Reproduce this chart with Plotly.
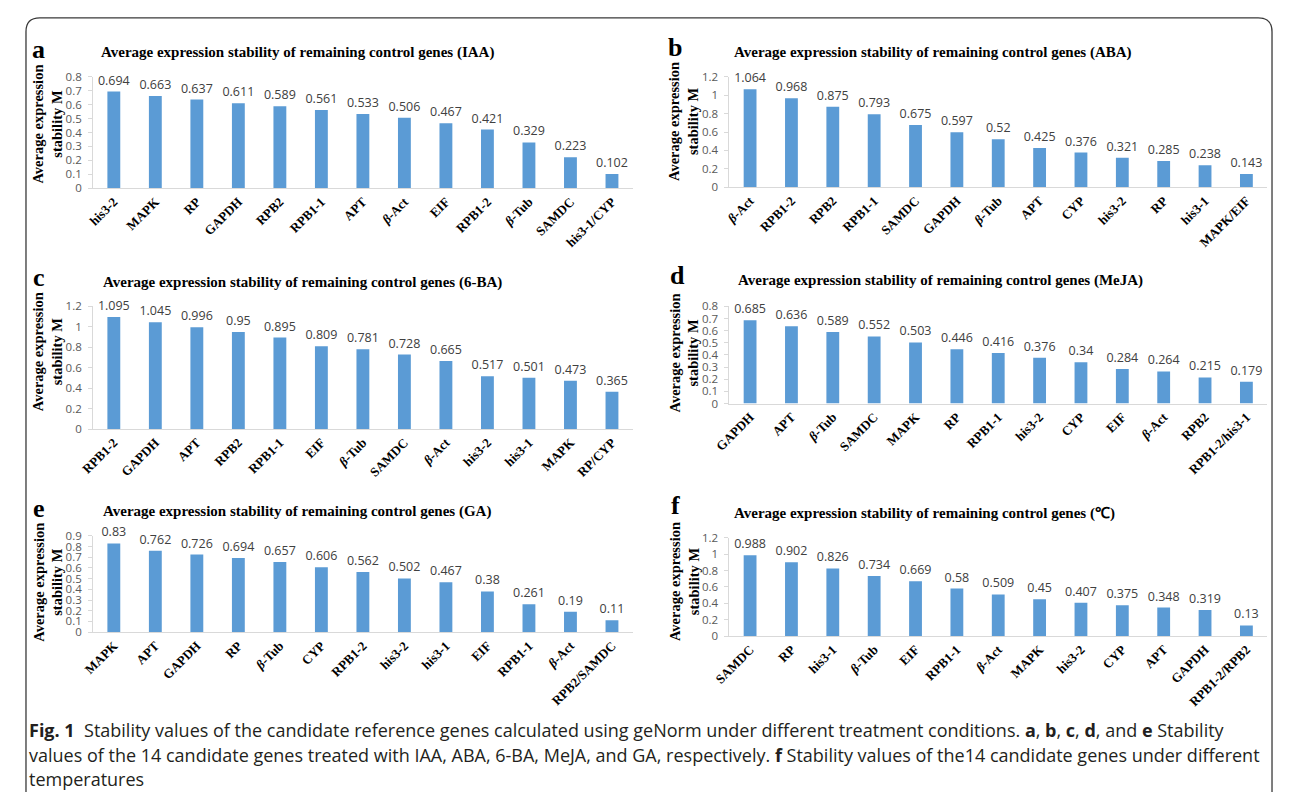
import plotly.graph_objects as go

# The rendered page puts the figure about 20 px from the left and 8 px from the
# top of the 1293x807 window, so the figure is sized to fit inside it and every
# position below is given in window pixels (the helpers convert them).
WIN_W, WIN_H = 1293, 807
OFF_X, OFF_Y = 20, 8
W, H = WIN_W - OFF_X - 8, WIN_H - 2 * OFF_Y

# ---------------- data ----------------
genes_a = ["his3-2", "MAPK", "RP", "GAPDH", "RPB2", "RPB1-1", "APT", "β-Act", "EIF", "RPB1-2", "β-Tub", "SAMDC", "his3-1/CYP"]
vals_a = [0.694, 0.663, 0.637, 0.611, 0.589, 0.561, 0.533, 0.506, 0.467, 0.421, 0.329, 0.223, 0.102]

genes_b = ["β-Act", "RPB1-2", "RPB2", "RPB1-1", "SAMDC", "GAPDH", "β-Tub", "APT", "CYP", "his3-2", "RP", "his3-1", "MAPK/EIF"]
vals_b = [1.064, 0.968, 0.875, 0.793, 0.675, 0.597, 0.52, 0.425, 0.376, 0.321, 0.285, 0.238, 0.143]

genes_c = ["RPB1-2", "GAPDH", "APT", "RPB2", "RPB1-1", "EIF", "β-Tub", "SAMDC", "β-Act", "his3-2", "his3-1", "MAPK", "RP/CYP"]
vals_c = [1.095, 1.045, 0.996, 0.95, 0.895, 0.809, 0.781, 0.728, 0.665, 0.517, 0.501, 0.473, 0.365]

genes_d = ["GAPDH", "APT", "β-Tub", "SAMDC", "MAPK", "RP", "RPB1-1", "his3-2", "CYP", "EIF", "β-Act", "RPB2", "RPB1-2/his3-1"]
vals_d = [0.685, 0.636, 0.589, 0.552, 0.503, 0.446, 0.416, 0.376, 0.34, 0.284, 0.264, 0.215, 0.179]

genes_e = ["MAPK", "APT", "GAPDH", "RP", "β-Tub", "CYP", "RPB1-2", "his3-2", "his3-1", "EIF", "RPB1-1", "β-Act", "RPB2/SAMDC"]
vals_e = [0.83, 0.762, 0.726, 0.694, 0.657, 0.606, 0.562, 0.502, 0.467, 0.38, 0.261, 0.19, 0.11]

genes_f = ["SAMDC", "RP", "his3-1", "β-Tub", "EIF", "RPB1-1", "β-Act", "MAPK", "his3-2", "CYP", "APT", "GAPDH", "RPB1-2/RPB2"]
vals_f = [0.988, 0.902, 0.826, 0.734, 0.669, 0.58, 0.509, 0.45, 0.407, 0.375, 0.348, 0.319, 0.13]

letters = ["a", "b", "c", "d", "e", "f"]
treatments = ["IAA", "ABA", "6-BA", "MeJA", "GA", "℃"]
y_max = [0.8, 1.2, 1.2, 0.8, 0.9, 1.2]
y_step = [0.1, 0.2, 0.2, 0.1, 0.1, 0.2]
y_title = "<b>Average expression<br>stability M</b>"

caption_lines = [
    "<b>Fig. 1</b>  Stability values of the candidate reference genes calculated using geNorm under different treatment conditions. "
    "<b>a</b>, <b>b</b>, <b>c</b>, <b>d</b>, and <b>e</b> Stability",
    "values of the 14 candidate genes treated with IAA, ABA, 6-BA, MeJA, and GA, respectively. <b>f</b> Stability values of the14 candidate genes under different",
    "temperatures",
]

panels = [(genes_a, vals_a), (genes_b, vals_b), (genes_c, vals_c),
          (genes_d, vals_d), (genes_e, vals_e), (genes_f, vals_f)]

# ---------------- layout geometry (window pixels) ----------------
# (x0, x1, ytop, ybottom) of each plot area
boxes = [
    (89, 636, 70, 183.5),
    (734, 1279, 70, 182.5),
    (89, 636, 304, 429),
    (734, 1279, 304, 403),
    (89, 636, 538, 636),
    (734, 1279, 540, 640),
]
title_pos = [(95, 45), (737, 45), (97, 280), (741, 278), (97, 513), (737, 515)]
letter_pos = [(34, 42), (679, 40), (34, 275), (681, 273), (34, 510), (679, 507)]
ytitle_pos = [(43, 118), (688, 116), (43, 350), (688, 352), (43, 585), (688, 585)]

SERIF = "Times New Roman, Liberation Serif, serif"
SANS = "Open Sans, Noto Sans, sans-serif"
BAR = "#5B9BD5"


def px(x):
    return (x - OFF_X) / W


def py(y):
    return 1 - (y - OFF_Y) / H


fig = go.Figure()
annotations = []

for i, ((genes, vals), box) in enumerate(zip(panels, boxes)):
    k = "" if i == 0 else str(i + 1)
    fig.add_trace(go.Bar(
        x=genes, y=vals,
        xaxis="x" + k, yaxis="y" + k,
        marker=dict(color=BAR, line=dict(width=0)),
        text=[str(v) for v in vals],
        textposition="outside",
        constraintext="none",
        textfont=dict(family=SANS, size=12.5, color="#404040"),
        cliponaxis=False,
        showlegend=False,
        hoverinfo="x+y",
    ))
    x0, x1, yt, yb = box
    fig.layout["xaxis" + k] = dict(
        domain=[px(x0), px(x1)], anchor="y" + k,
        showline=True, linecolor="#D9D9D9", linewidth=1,
        ticks="", showgrid=False, zeroline=False,
        tickangle=-45,
        tickmode="array", tickvals=genes,
        ticktext=[g.replace("β", "<i>β</i>") for g in genes],
        tickfont=dict(family=SERIF, size=13, color="#000000", weight="bold"),
        fixedrange=True,
    )
    fig.layout["yaxis" + k] = dict(
        domain=[py(yb), py(yt)], anchor="x" + k,
        range=[0, y_max[i]], dtick=y_step[i], tick0=0,
        showline=True, linecolor="#D9D9D9", linewidth=1,
        ticks="outside", ticklen=4, tickcolor="#D9D9D9",
        showgrid=False, zeroline=False,
        tickfont=dict(family=SANS, size=11.5, color="#595959"),
        ticklabelstandoff=4,
        fixedrange=True,
    )
    # panel title
    tx, ty = title_pos[i]
    annotations.append(dict(
        xref="paper", yref="paper", x=px(tx), y=py(ty),
        xanchor="left", yanchor="middle", showarrow=False,
        text="<b>Average expression stability of remaining control genes (%s)</b>" % treatments[i],
        font=dict(family=SERIF, size=15, color="#000000"),
    ))
    # panel letter
    lx, ly = letter_pos[i]
    annotations.append(dict(
        xref="paper", yref="paper", x=px(lx), y=py(ly),
        xanchor="center", yanchor="middle", showarrow=False,
        text="<b>%s</b>" % letters[i],
        font=dict(family=SERIF, size=26, color="#000000"),
    ))
    # y axis title
    ax_, ay_ = ytitle_pos[i]
    annotations.append(dict(
        xref="paper", yref="paper", x=px(ax_), y=py(ay_),
        xanchor="center", yanchor="middle", showarrow=False,
        textangle=-90,
        text=y_title,
        font=dict(family=SERIF, size=14.5, color="#000000"),
    ))

cap_y = [736, 761, 786]
for line, yy in zip(caption_lines, cap_y):
    annotations.append(dict(
        xref="paper", yref="paper", x=px(22), y=py(yy),
        xanchor="left", yanchor="middle", showarrow=False,
        text=line,
        font=dict(family=SANS, size=18, color="#231F20"),
    ))

# rounded frame around the figure (kept inside the figure area)
r = 14
x0f, x1f, y0f, y1f = 21, 1284, 10, 799
path = (f"M {px(x0f)} {py(y1f)} L {px(x0f)} {py(y0f + r)} "
        f"Q {px(x0f)} {py(y0f)} {px(x0f + r)} {py(y0f)} "
        f"L {px(x1f - r)} {py(y0f)} "
        f"Q {px(x1f)} {py(y0f)} {px(x1f)} {py(y0f + r)} "
        f"L {px(x1f)} {py(y1f)}")
fig.add_shape(type="path", xref="paper", yref="paper", path=path,
              line=dict(color="#3A3A3A", width=1.3))

fig.update_layout(
    width=W, height=H,
    margin=dict(l=0, r=0, t=0, b=0),
    paper_bgcolor="white", plot_bgcolor="white",
    bargap=0.69,
    annotations=annotations,
    showlegend=False,
)

fig.write_html("out.html")
